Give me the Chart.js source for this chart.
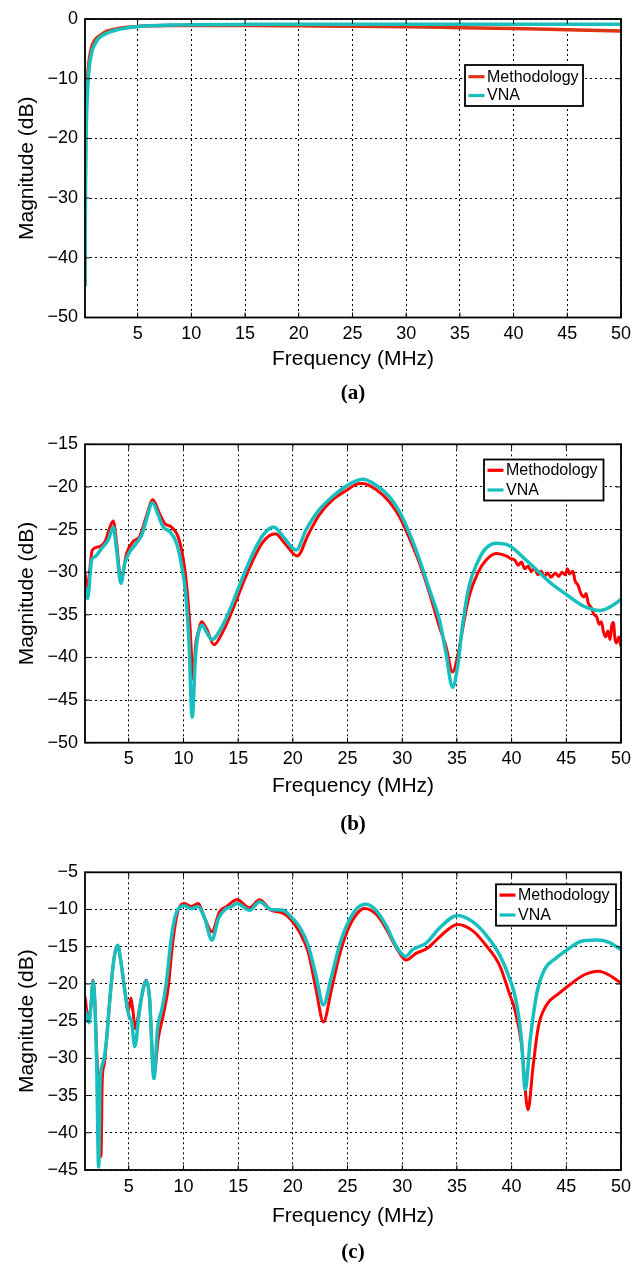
<!DOCTYPE html>
<html><head><meta charset="utf-8">
<script src="https://cdn.jsdelivr.net/npm/chart.js@4.4.1/dist/chart.umd.min.js"></script>
<style>
html,body{margin:0;padding:0;background:#fff;}
#wrap{position:relative;width:643px;height:1266px;overflow:hidden;}
canvas{position:absolute;left:0;}
</style></head><body>
<div id="wrap">
<canvas id="ca" width="643" height="420" style="top:0px"></canvas>
<canvas id="cb" width="643" height="420" style="top:420px"></canvas>
<canvas id="cc" width="643" height="426" style="top:840px"></canvas>
</div>
<script>
// ---------- shared labels / ticks ----------
const seriesNames = ['Methodology', 'VNA'];
const xTitle = 'Frequency (MHz)';
const yTitle = 'Magnitude (dB)';
const xTicks = [5, 10, 15, 20, 25, 30, 35, 40, 45, 50];
const yTicksA = [0, -10, -20, -30, -40, -50];
const yTicksB = [-15, -20, -25, -30, -35, -40, -45, -50];
const yTicksC = [-5, -10, -15, -20, -25, -30, -35, -40, -45];

// ---------- (a) ----------
const aFreqM = [0.1, 0.11, 0.13, 0.17, 0.23, 0.32, 0.45, 0.7, 1.0, 1.3, 1.7, 2.2, 3.0, 4.0, 5.0, 6, 8, 10, 15, 20, 25, 30, 35, 40, 45, 50];
const aMethod = [-44.7, -35, -25, -18, -13.5, -10.5, -7.5, -4.8, -3.6, -3.0, -2.5, -2.0, -1.65, -1.4, -1.25, -1.15, -1.1, -1.1, -1.1, -1.15, -1.2, -1.3, -1.45, -1.6, -1.8, -2.0];
const aFreqV = [0.1, 0.12, 0.15, 0.2, 0.27, 0.35, 0.5, 0.78, 1.0, 1.25, 1.6, 2.1, 3.0, 4.0, 4.9, 6, 8, 10, 15, 20, 25, 30, 35, 40, 45, 50];
const aVNA = [-44.7, -38, -28, -20, -15, -11.5, -8.0, -5.2, -4.3, -3.5, -2.9, -2.4, -1.85, -1.5, -1.3, -1.15, -1.0, -0.95, -0.9, -0.88, -0.87, -0.87, -0.87, -0.88, -0.89, -0.9];

// ---------- (b) ----------
const bFreqM = [1, 1.2, 1.67, 2.3, 2.9, 3.2, 3.58, 3.89, 4.28, 4.8, 5.4, 6.0, 6.6, 7.2, 7.8, 8.3, 8.9, 9.5, 9.95, 10.3, 10.6, 10.9, 11.1, 11.4, 11.65, 12.1, 12.8, 13.6, 14.5, 15.45, 16.35, 17.3, 18.4, 19.25, 20.4, 21.4, 22.4, 23.65, 24.9, 26.1, 26.4, 27.6, 28.8, 29.75, 30.65, 31.6, 32.5, 33.4, 34.0, 34.6, 35.06, 35.5, 36.1, 36.9, 37.65, 38.6,
  39.5, 39.9, 40.3, 40.6, 40.9, 41.2, 41.5, 41.8, 42.1, 42.4, 42.7, 43.0, 43.3, 43.6, 44.0, 44.3, 44.6, 44.9, 45.1, 45.3, 45.6, 45.8, 46.1, 46.3, 46.6, 46.8, 47.0, 47.3, 47.5, 47.8, 48.0, 48.2, 48.4, 48.6, 48.8, 49.0, 49.15, 49.3, 49.45, 49.6, 49.8, 50];
const bMethod = [-30.1, -31.9, -27.4, -27, -26.2, -25, -24, -26.6, -30.9, -27.8, -26.4, -25.8, -23.5, -21.5, -23.1, -24.3, -24.7, -25.8, -28.2, -31.7, -36.4, -42.6, -38.7, -36.8, -35.8, -36.6, -38.5, -37, -34.4, -31.3, -28.6, -26.4, -25.5, -26.6, -28.1, -25.6, -23.3, -21.5, -20.4, -19.6, -19.6, -20.3, -21.7, -23.5, -26, -29, -32.5, -36.4, -38.7, -41.7, -39.9, -36.8, -32.9, -30.1, -28.6, -27.8,
  -28.1, -28.4, -28.6, -29.2, -28.8, -29.6, -29.3, -29.9, -29.5, -30.3, -29.9, -30.5, -30.1, -30.6, -30.1, -30.5, -30.0, -30.3, -29.6, -30.2, -29.9, -31.0, -31.6, -32.4, -32.9, -32.5, -33.6, -34.2, -34.9, -35.3, -36.1, -35.8, -37.0, -37.6, -36.9, -37.9, -36.3, -35.9, -37.8, -38.3, -37.6, -38.7];
const bFreqV = [1, 1.24, 1.6, 1.9, 2.52, 3.13, 3.58, 3.89, 4.28, 4.65, 5.1, 5.7, 6.2, 6.6, 7.17, 7.7, 8.15, 8.76, 9.37, 9.8, 10.2, 10.5, 10.8, 11.1, 11.3, 11.7, 12.1, 12.6, 13.6, 14.5, 15.45, 16.35, 17.3, 18.25, 19.1, 20.3, 21.2, 22.4, 23.65, 24.9, 26.1, 26.4, 27.6, 28.8, 29.75, 30.65, 31.6, 32.5, 33.4, 34.0, 34.6, 35.06, 35.5, 36.1, 36.9, 37.65, 38.6, 39.8, 41, 42.1, 43.6, 45.1, 46.6, 48.1, 49.1, 50];
const bVNA = [-31.7, -33.1, -28.6, -28.2, -27.2, -26.2, -24.7, -27.4, -31.3, -28.9, -27.6, -26.6, -25.6, -23.9, -21.85, -23.3, -24.7, -25.25, -26.6, -29, -32.5, -38, -47, -39.9, -37.6, -36.2, -37, -37.9, -36.2, -33.6, -30.5, -27.8, -25.6, -24.7, -25.8, -27.4, -25.05, -22.7, -21.1, -19.9, -19.15, -19.1, -19.8, -21.1, -22.9, -25.4, -28.6, -32.1, -35.6, -39.5, -43.5, -41.1, -36.4, -31.7, -28.8, -27.2, -26.6, -26.9, -28.2, -29.5, -31.3, -32.7, -34, -34.5, -34, -33.2];

// ---------- (c) ----------
const cFreqM = [1, 1.3, 1.55, 1.73, 1.91, 2.07, 2.37, 2.46, 2.58, 2.76, 2.98, 3.28, 3.65, 3.98, 4.28, 4.65, 4.95, 5.2, 5.35, 5.62, 5.93, 6.23, 6.6, 6.9, 7.3, 7.7, 8.15, 8.6, 8.97, 9.37, 9.7, 10.1, 10.7, 11.35, 11.95, 12.6, 13.3, 13.95, 14.9, 16.05, 16.97, 18.0, 19.1, 19.85, 20.6, 21.4, 22.1, 22.8, 23.5, 24.27, 25.0, 25.9, 26.55, 27.6, 28.5, 29.4, 30.35, 31.26, 32.3, 33.4, 35.06, 36.4, 37.65, 38.9, 39.8, 40.3, 40.9, 41.5, 41.96, 42.45, 43.2, 44.3, 45.5, 46.6, 47.95, 48.9, 50];
const cMethod = [-21.7, -24.8, -22.8, -19.5, -22.8, -29.1, -39.9, -43.2, -32.7, -30.8, -27.3, -21.9, -16.6, -14.8, -17, -21, -23.7, -21.9, -23.3, -26, -23.7, -21.3, -19.5, -21.9, -32.3, -27.3, -24.2, -20.6, -15.1, -11, -9.5, -9.2, -9.6, -9.2, -11.2, -13, -10.3, -9.6, -8.7, -9.75, -8.7, -10.1, -10.5, -11.4, -13, -15.7, -20.6, -25.1, -21, -16.1, -12.8, -10.5, -9.85, -10.6, -12.5, -15.0, -16.8, -15.9, -15.2, -13.7, -12, -12.8, -14.8, -17.5, -21.3, -23.5, -28, -36.9, -31.1, -25.7, -22.8, -21.3, -19.9, -18.8, -18.3, -18.8, -19.9];
const cFreqV = [1, 1.37, 1.55, 1.73, 1.91, 2.07, 2.25, 2.4, 2.67, 2.98, 3.28, 3.65, 3.98, 4.28, 4.65, 5.0, 5.26, 5.56, 5.93, 6.23, 6.6, 6.9, 7.3, 7.63, 8.05, 8.45, 8.85, 9.2, 9.58, 10.1, 10.7, 11.3, 11.95, 12.6, 13.2, 13.8, 14.4, 14.9, 16.05, 16.97, 18.0, 19.1, 19.85, 20.6, 21.4, 22.1, 22.8, 23.5, 24.27, 25.0, 25.9, 26.7, 27.6, 28.5, 29.4, 30.3, 30.95, 32.2, 33.4, 35.06, 36.4, 37.65, 38.9, 39.8, 40.4, 40.9, 41.25, 41.7, 42.3, 43, 44, 45.1, 46.3, 47.8, 48.9, 50];
const cVNA = [-23.5, -25.2, -22.8, -19.6, -22.8, -30.9, -44.6, -32.7, -30.5, -27.3, -21.9, -16.6, -14.8, -17, -21, -24.2, -25.1, -28.4, -24.2, -21.3, -19.6, -21.9, -32.7, -26, -23.3, -19.7, -14.3, -11.2, -9.8, -9.5, -9.9, -9.6, -11.2, -14.1, -11.2, -10, -9.6, -9.2, -10.1, -8.95, -10, -10.1, -11, -12.3, -14.8, -18.8, -22.8, -19.2, -14.8, -11.9, -9.8, -9.3, -10.1, -12.1, -14.8, -16.3, -15.4, -14.5, -12.5, -10.8, -11.6, -13.4, -16.1, -19.2, -22.2, -27.5, -34.2, -27.5, -21.3, -18.1, -16.6, -15.4, -14.3, -14.1, -14.4, -15.4];

// ---------- styling ----------
const SANS = "'Liberation Sans', Arial, Helvetica, sans-serif";
const SERIF = "'Liberation Serif', 'Times New Roman', serif";
Chart.defaults.font.family = SANS;
Chart.defaults.color = '#000';
const CYAN = '#17bfbf';

const fmt = v => (v < 0 ? '\u2212' + Math.abs(v) : String(v));

const framePlugin = {
  id: 'frame',
  afterDatasetsDraw(chart) {
    const {ctx, chartArea: a, scales} = chart;
    ctx.save();
    ctx.strokeStyle = '#000';
    ctx.lineWidth = 1;
    const tl = 5;
    ctx.beginPath();
    scales.x.ticks.forEach(t => {
      const px = scales.x.getPixelForValue(t.value);
      ctx.moveTo(px, a.bottom); ctx.lineTo(px, a.bottom - tl);
      ctx.moveTo(px, a.top); ctx.lineTo(px, a.top + tl);
    });
    scales.y.ticks.forEach(t => {
      const py = scales.y.getPixelForValue(t.value);
      ctx.moveTo(a.left, py); ctx.lineTo(a.left + tl, py);
      ctx.moveTo(a.right, py); ctx.lineTo(a.right - tl, py);
    });
    ctx.stroke();
    ctx.lineWidth = 1.8;
    ctx.strokeRect(a.left, a.top, a.right - a.left, a.bottom - a.top);
    ctx.restore();
  }
};

const legendPlugin = {
  id: 'boxLegend',
  afterDraw(chart, args, o) {
    if (!o || o.x === undefined) return;
    const ctx = chart.ctx;
    ctx.save();
    ctx.fillStyle = '#fff';
    ctx.fillRect(o.x, o.y, o.w, o.h);
    ctx.strokeStyle = '#000';
    ctx.lineWidth = 1.8;
    ctx.strokeRect(o.x, o.y, o.w, o.h);
    ctx.font = '16px ' + SANS;
    ctx.textBaseline = 'middle';
    ctx.textAlign = 'left';
    chart.data.datasets.forEach((ds, i) => {
      const ry = o.y + o.rows[i];
      ctx.strokeStyle = ds.borderColor;
      ctx.lineWidth = 3.2;
      ctx.beginPath();
      ctx.moveTo(o.x + 3.5, ry); ctx.lineTo(o.x + 19.5, ry);
      ctx.stroke();
      ctx.fillStyle = '#000';
      ctx.fillText(ds.label, o.x + 22, ry + 0.5);
    });
    ctx.restore();
  }
};

function makeChart(id, L, xs, ys, colors, widths, yTicks, xMin) {
  const lh = 21 * 1.2;
  const pbCap = L.H - L.captionY - lh / 2;
  const xBottom = L.H - (lh + pbCap);
  const pbX = xBottom - L.xLabelY - lh / 2;
  const xH = xBottom - L.plotBottom;
  const datasets = seriesNames.map((name, k) => ({
    label: name,
    data: xs[k].map((x, i) => ({x: x, y: ys[k][i]})),
    borderColor: colors[k],
    backgroundColor: colors[k],
    borderWidth: widths[k],
    pointRadius: 0,
    fill: false,
    cubicInterpolationMode: 'monotone',
    order: k === 0 ? 1 : 0
  }));
  return new Chart(document.getElementById(id), {
    type: 'line',
    data: {datasets},
    options: {
      responsive: false,
      animation: false,
      devicePixelRatio: 1,
      events: [],
      layout: {padding: {top: L.plotTop, right: 22, bottom: 0, left: 0}},
      plugins: {
        legend: {display: false},
        tooltip: {enabled: false},
        title: {
          display: true, text: L.caption, position: 'bottom', color: '#000', fullSize: false,
          font: {family: SERIF, size: 21, weight: 'bold'},
          padding: {top: 0, bottom: pbCap}
        },
        boxLegend: L.legend
      },
      scales: {
        x: {
          type: 'linear', min: xMin, max: 50,
          afterBuildTicks: s => { s.ticks = xTicks.map(v => ({value: v})); },
          afterFit: s => { s.height = xH; },
          ticks: {padding: 6, color: '#000', font: {size: 18}, maxRotation: 0, autoSkip: false, callback: fmt},
          grid: {color: '#000', lineWidth: 1, drawTicks: false},
          border: {display: false, dash: [2, 3]},
          title: {display: true, text: xTitle, color: '#000', font: {size: 21}, padding: {top: 0, bottom: pbX}}
        },
        y: {
          type: 'linear', min: yTicks[yTicks.length - 1], max: yTicks[0],
          afterBuildTicks: s => { s.ticks = yTicks.slice().reverse().map(v => ({value: v})); },
          afterFit: s => { s.width = 85; },
          ticks: {padding: 7, color: '#000', font: {size: 18}, autoSkip: false, callback: fmt},
          grid: {color: '#000', lineWidth: 1, drawTicks: false},
          border: {display: false, dash: [2, 3]},
          title: {display: true, text: yTitle, color: '#000', font: {size: 21}, padding: {top: 14.4, bottom: 0}}
        }
      }
    },
    plugins: [framePlugin, legendPlugin]
  });
}

makeChart('ca',
  {H: 420, plotTop: 19, plotBottom: 317.5, xLabelY: 359, captionY: 394, caption: '(a)',
   legend: {x: 465, y: 65, w: 118, h: 41, rows: [11.7, 30.5]}},
  [aFreqM, aFreqV], [aMethod, aVNA], ['#dc3314', CYAN], [3.5, 3.5], yTicksA, 0.1);

makeChart('cb',
  {H: 420, plotTop: 24.3, plotBottom: 322.7, xLabelY: 366.5, captionY: 405, caption: '(b)',
   legend: {x: 484, y: 39.5, w: 119.5, h: 41, rows: [10.8, 30.5]}},
  [bFreqM, bFreqV], [bMethod, bVNA], ['#ff0000', CYAN], [3, 3.5], yTicksB, 1);

makeChart('cc',
  {H: 426, plotTop: 32.3, plotBottom: 330, xLabelY: 376.5, captionY: 413, caption: '(c)',
   legend: {x: 496, y: 44.3, w: 120, h: 41.4, rows: [10.8, 30.7]}},
  [cFreqM, cFreqV], [cMethod, cVNA], ['#ff0000', CYAN], [3, 3.5], yTicksC, 1);
</script>
</body></html>
